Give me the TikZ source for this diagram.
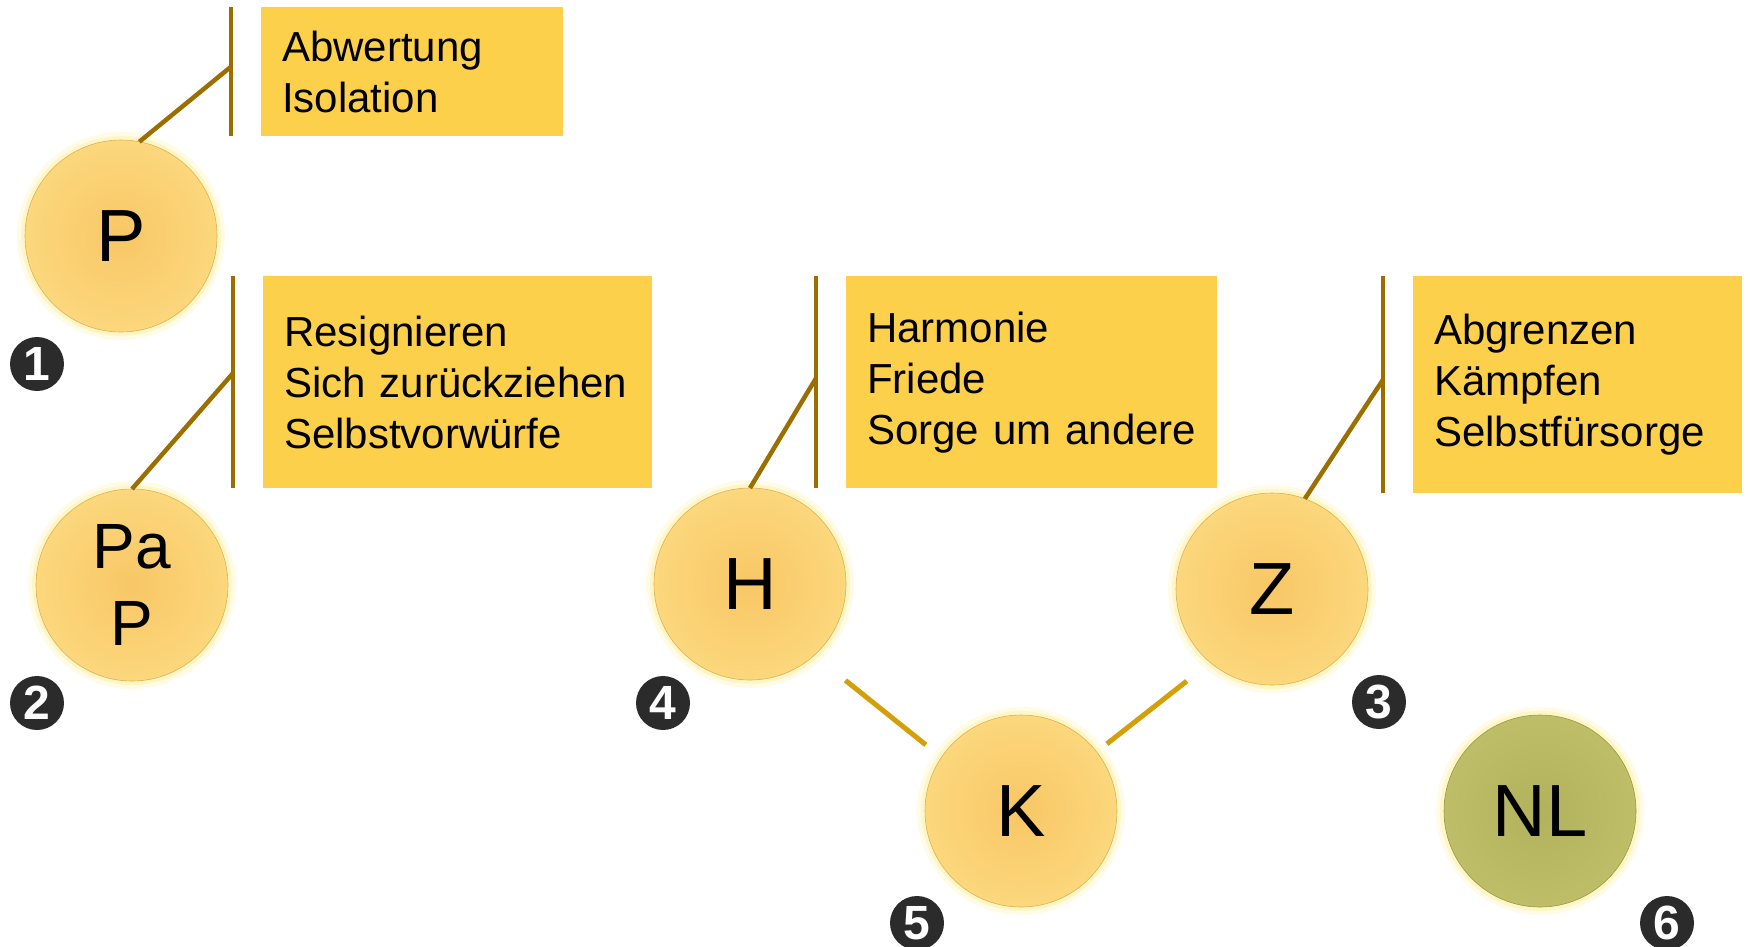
\documentclass[tikz,border=0pt]{standalone}
\usepackage{fontspec}
\setmainfont{Liberation Sans}
\usetikzlibrary{calc}

\definecolor{kastenfarbe}{HTML}{FDD04B}
\definecolor{stabfarbe}{HTML}{9C6E00}
\definecolor{linkfarbe}{HTML}{D4A00A}
\definecolor{kugelinnen}{HTML}{F8C766}
\definecolor{kugelrand}{HTML}{FCD77C}
\definecolor{kugellinie}{HTML}{DDB055}
\definecolor{schein}{HTML}{FFF2B0}
\definecolor{olivinnen}{HTML}{B3B25C}
\definecolor{olivrand}{HTML}{BFBE68}
\definecolor{olivlinie}{HTML}{9A9842}
\definecolor{nummerfarbe}{HTML}{2B2B2B}

\tikzset{
  kugel/.style={circle, minimum size=192pt, inner sep=0pt, outer sep=0pt,
    shading=radial, inner color=kugelinnen, outer color=kugelrand,
    draw=kugellinie, line width=.6pt,
    preaction={draw=schein, line width=16pt, opacity=.3},
    preaction={draw=schein, line width=8pt, opacity=.6},
    font=\fontsize{74}{74}\selectfont},
  olivkugel/.style={kugel, inner color=olivinnen, outer color=olivrand, draw=olivlinie},
  infokasten/.style={fill=kastenfarbe, anchor=north west, inner xsep=21pt,
    inner ysep=0pt, align=left, font=\fontsize{42}{51}\selectfont,
    execute at begin node={\hyphenpenalty=10000\relax}},
  nummer/.style={circle, fill=nummerfarbe, text=white, minimum size=54pt,
    inner sep=0pt, font=\fontsize{48}{48}\selectfont\bfseries},
  stab/.style={draw=stabfarbe, line width=4.5pt},
  link/.style={draw=linkfarbe, line width=5pt}
}

\begin{document}
\begin{tikzpicture}[x=1pt, y=-1pt]
    \useasboundingbox (0,0) rectangle (1750,946);
    % Kugeln
    \node[kugel] (P) at (121,236) {P};
    \node[kugel, font=\fontsize{64}{77}\selectfont, align=center] (PaP) at (132,585) {Pa\\P};
    \node[kugel] (H) at (750,584) {H};
    \node[kugel] (Z) at (1272,589) {Z};
    \node[kugel] (K) at (1021,811) {K};
    \node[olivkugel] (NL) at (1540,811) {NL};
    % Nummern
    \node[nummer] (n1) at (37,364) {1};
    \node[nummer] (n2) at (37,703) {2};
    \node[nummer] (n3) at (1379,702) {3};
    \node[nummer] (n4) at (663,703) {4};
    \node[nummer] (n5) at (917,923) {5};
    \node[nummer] (n6) at (1667,923) {6};
    % Kästen
    \node[infokasten, text width=260pt, minimum height=129pt] (tP) at (261,7) {Abwertung\\Isolation};
    \node[infokasten, text width=347pt, minimum height=212pt] (tPaP) at (263,276) {Resignieren\\Sich zurückziehen\\Selbstvorwürfe};
    \node[infokasten, text width=329pt, minimum height=212pt] (tH) at (846,276) {Harmonie\\Friede\\Sorge~um~andere};
    \node[infokasten, text width=287pt, minimum height=217pt] (tZ) at (1413,276) {Abgrenzen\\Kämpfen\\Selbstfürsorge};
    % Stäbe und Schrägen
    \foreach \k/\t/\w/\h in {P/tP/79/-5, PaP/tPaP/90/-9, H/tH/90/-4, Z/tZ/70/-5} {
      \draw[stab] ($(\t.north west)+(-30,0)$) -- ($(\t.south west)+(-30,0)$);
      \draw[stab] (\k.\w) -- ($(\t.west)+(-30,\h)$);
    }
    % Verbindungen zu K
    \draw[link, shorten <=40pt, shorten >=20pt] (H.-48) -- (K.146);
    \draw[link, shorten <=13pt, shorten >=30pt] (K.38) -- (Z.-130);
  \end{tikzpicture}
\end{document}
